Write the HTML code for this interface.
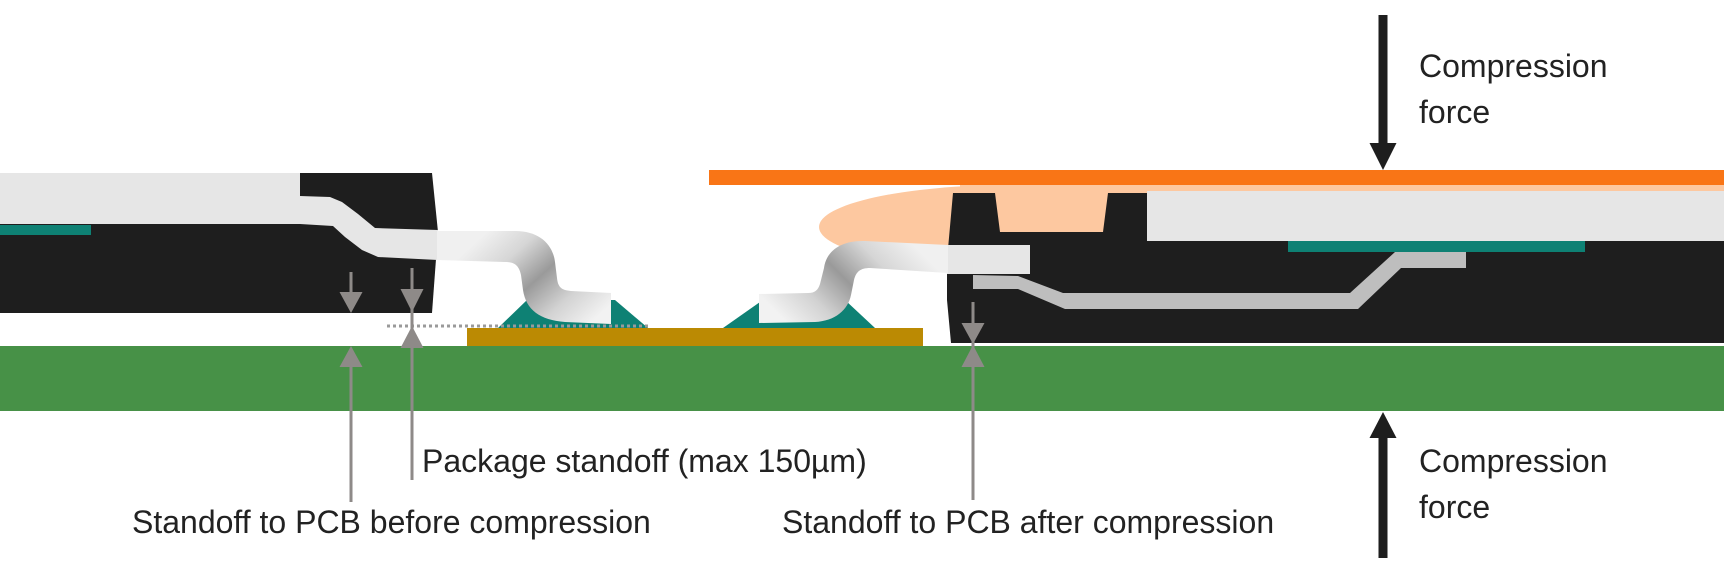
<!DOCTYPE html>
<html>
<head>
<meta charset="utf-8">
<style>
  html, body { margin: 0; padding: 0; background: #ffffff; }
  body { width: 1724px; height: 571px; overflow: hidden; }
  svg { display: block; }
  text { font-family: "Liberation Sans", Arial, sans-serif; font-size: 32px; fill: #222222; }
</style>
</head>
<body>
<svg width="1724" height="571" viewBox="0 0 1724 571" xmlns="http://www.w3.org/2000/svg">
  <defs>
    <linearGradient id="gL" gradientUnits="userSpaceOnUse" x1="500" y1="220" x2="592" y2="322">
      <stop offset="0" stop-color="#f0f0f0"/>
      <stop offset="0.25" stop-color="#d6d6d6"/>
      <stop offset="0.5" stop-color="#9a9a9a"/>
      <stop offset="0.75" stop-color="#d2d2d2"/>
      <stop offset="1" stop-color="#f2f2f2"/>
    </linearGradient>
    <linearGradient id="gR" gradientUnits="userSpaceOnUse" x1="892" y1="224" x2="790" y2="326">
      <stop offset="0" stop-color="#f0f0f0"/>
      <stop offset="0.25" stop-color="#d6d6d6"/>
      <stop offset="0.5" stop-color="#9a9a9a"/>
      <stop offset="0.75" stop-color="#d2d2d2"/>
      <stop offset="1" stop-color="#f2f2f2"/>
    </linearGradient>
  </defs>

  <!-- PCB -->
  <rect x="0" y="346" width="1724" height="65" fill="#479147"/>
  <!-- gold pad -->
  <rect x="467" y="328" width="456" height="18" fill="#bb8a03"/>

  <!-- solder fillets -->
  <polygon points="498,328 527,300 615,300 648,328" fill="#0e8174"/>
  <polygon points="723,328 760,302 845,300 875,328" fill="#0e8174"/>

  <!-- dotted line -->
  <line x1="387" y1="326" x2="649" y2="326" stroke="#9a9a9a" stroke-width="3" stroke-dasharray="3 3"/>

  <!-- Left package body -->
  <polygon points="0,173 432,173 438,232 432,313 0,313" fill="#1e1e1e"/>
  <!-- Left lead inside body -->
  <path d="M0 173 L300 173 L300 196 L330 197 L342 202 L358 214 L375 228 L438 230 L438 260 L378 257 L362 250 L345 237 L333 226 L300 224 L0 224 Z" fill="#e6e6e6"/>
  <!-- left teal strip -->
  <rect x="0" y="225" width="91" height="10" fill="#0e8174"/>

  <!-- Left lead outside -->
  <path d="M437 231 L515 231 C540 231 553 245 555 262 L557 278 C558 287 561 290 571 291 L611 293 L611 324 L565 322 C540 320 526 310 523 290 L521 275 C519 265 514 262 505 262 L437 260 Z" fill="url(#gL)"/>

  <!-- Orange lid -->
  <rect x="709" y="170" width="1015" height="15" fill="#f97516"/>
  <!-- Peach adhesive -->
  <rect x="960" y="185" width="764" height="12" fill="#fdc8a0"/>
  <ellipse cx="1010" cy="227" rx="191" ry="42" fill="#fdc8a0"/>

  <!-- Right package body -->
  <polygon points="953,193 995,193 1000,232 1103,232 1108,193 1724,193 1724,343 951,343 947,300 947,260" fill="#1e1e1e"/>
  <!-- light gray block -->
  <rect x="1147" y="191" width="577" height="50" fill="#e6e6e6"/>
  <!-- right teal strip -->
  <rect x="1288" y="241" width="297" height="11" fill="#0e8174"/>
  <!-- inner trace -->
  <path d="M973 275 L1018 276 L1063 293 L1350 293 L1395 252 L1466 252 L1466 268 L1401 268 L1358 309 L1065 309 L1018 289 L973 289 Z" fill="#bebebe"/>
  <!-- right lead inside body -->
  <rect x="947" y="245" width="83" height="29" fill="#e6e6e6"/>
  <!-- Right lead outside -->
  <path d="M948 245 L865 241 C840 240 826 252 824 268 L820 284 C818 290 815 293 808 293 L759 294 L759 323 L815 322 C835 321 848 310 851 295 L854 280 C856 272 860 268 870 268 L948 273 Z" fill="url(#gR)"/>

  <!-- Gray measurement arrows -->
  <g fill="#8e8a88" stroke="none">
    <!-- arrow 1 -->
    <rect x="349.5" y="272" width="3" height="22"/>
    <polygon points="339.5,292 362.5,292 351,313"/>
    <polygon points="339.5,367 362.5,367 351,346"/>
    <rect x="349.5" y="365" width="3" height="137"/>
    <!-- arrow 2 -->
    <rect x="410.5" y="268" width="3" height="212"/>
    <polygon points="400.5,289 423.5,289 412,312"/>
    <polygon points="400.5,348 423.5,348 412,326"/>
    <!-- arrow 3 -->
    <rect x="971.5" y="302" width="3" height="198"/>
    <polygon points="961.5,323 984.5,323 973,344"/>
    <polygon points="961.5,367 984.5,367 973,345"/>
  </g>

  <!-- Black compression arrows -->
  <g fill="#1e1e1e">
    <rect x="1378.5" y="15" width="9" height="130"/>
    <polygon points="1369.5,143 1396.5,143 1383,170"/>
    <rect x="1378.5" y="436" width="9" height="122"/>
    <polygon points="1369.5,438 1396.5,438 1383,412"/>
  </g>

  <!-- Text -->
  <text x="1419" y="77">Compression</text>
  <text x="1419" y="123">force</text>
  <text x="1419" y="472">Compression</text>
  <text x="1419" y="518">force</text>
  <text x="422" y="472">Package standoff (max 150µm)</text>
  <text x="132" y="533">Standoff to PCB before compression</text>
  <text x="782" y="533">Standoff to PCB after compression</text>
</svg>
</body>
</html>
